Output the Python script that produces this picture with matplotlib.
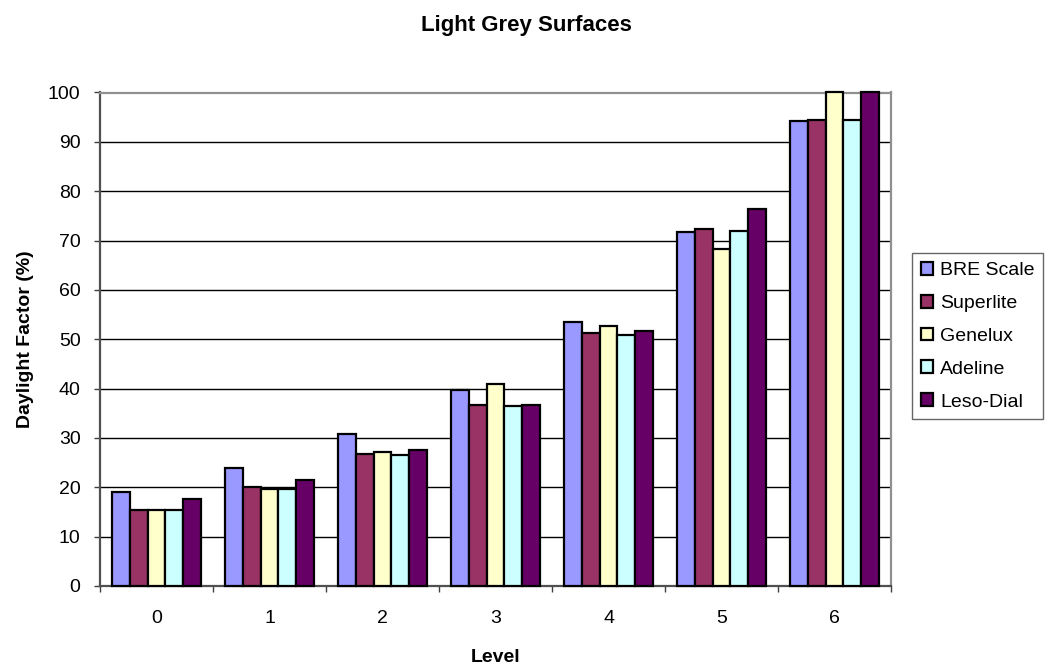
import numpy as np
import matplotlib
matplotlib.use("Agg")
import matplotlib.pyplot as plt
from matplotlib.ticker import FixedLocator, NullFormatter

plt.rcParams['font.family'] = ['Liberation Sans', 'DejaVu Sans']

levels = ["0", "1", "2", "3", "4", "5", "6"]
series_names = ["BRE Scale", "Superlite", "Genelux", "Adeline", "Leso-Dial"]
bre_scale = [19.0, 23.9, 30.7, 39.8, 53.4, 71.7, 94.3]
superlite = [15.3, 20.1, 26.8, 36.7, 51.3, 72.4, 94.4]
genelux = [15.3, 19.7, 27.2, 40.9, 52.7, 68.3, 100.0]
adeline = [15.3, 19.7, 26.5, 36.4, 50.8, 72.0, 94.4]
leso_dial = [17.6, 21.5, 27.5, 36.7, 51.7, 76.3, 100.0]
colors = ["#9999FF", "#993366", "#FFFFCC", "#CCFFFF", "#660066"]

series = [bre_scale, superlite, genelux, adeline, leso_dial]

fig = plt.figure(figsize=(10.53, 6.70), dpi=100)
ax = fig.add_axes([100 / 1053, 1 - 586 / 670, 791 / 1053, 493.5 / 670])

x = np.arange(len(levels))
bar_w = 0.156
for i, (vals, name, col) in enumerate(zip(series, series_names, colors)):
    offs = (i - 2) * bar_w
    bars = ax.bar(x + offs, vals, width=bar_w, color=col, edgecolor="black",
                  linewidth=1.6, label=name, zorder=3)
    for b in bars:
        b.set_clip_on(False)

ax.set_xlim(-0.5, len(levels) - 0.5)
ax.set_ylim(0, 100)
ax.set_yticks(np.arange(0, 101, 10))
ax.yaxis.grid(True, color="black", linewidth=1.0, zorder=0)
ax.set_axisbelow(True)

# category boundaries carry the tick marks, labels sit at the centres
ax.xaxis.set_major_locator(FixedLocator(np.arange(-0.5, len(levels), 1.0)))
ax.xaxis.set_major_formatter(NullFormatter())
ax.xaxis.set_minor_locator(FixedLocator(x))
ax.set_xticklabels(levels, minor=True)
ax.tick_params(axis="x", which="major", direction="out", length=4,
               width=1.0, color="#404040")
ax.tick_params(axis="x", which="minor", length=0, labelsize=14, pad=17)
ax.tick_params(axis="y", direction="out", length=4, width=1.0,
               color="#404040", labelsize=14, pad=10)

for side in ["left", "bottom"]:
    ax.spines[side].set_color("#505050")
    ax.spines[side].set_linewidth(1.6)
for side in ["top", "right"]:
    ax.spines[side].set_color("#909090")
    ax.spines[side].set_linewidth(1.6)

ax.set_xlabel("Level", fontsize=14, fontweight="bold", labelpad=16)
ax.set_ylabel("Daylight Factor (%)", fontsize=14, fontweight="bold",
              labelpad=10)
fig.text(0.5, 1 - 25 / 670, "Light Grey Surfaces", ha="center",
         va="center", fontsize=16, fontweight="bold")

leg = fig.legend(loc="upper left", bbox_to_anchor=(912 / 1053, 1 - 253 / 670),
                 fontsize=14, frameon=True, fancybox=False,
                 handlelength=0.65, handleheight=0.65, handletextpad=0.35,
                 borderpad=0.45, labelspacing=0.8, borderaxespad=0)
leg.get_frame().set_edgecolor("#404040")
leg.get_frame().set_linewidth(1.0)

fig.savefig("out.png", dpi=100)
